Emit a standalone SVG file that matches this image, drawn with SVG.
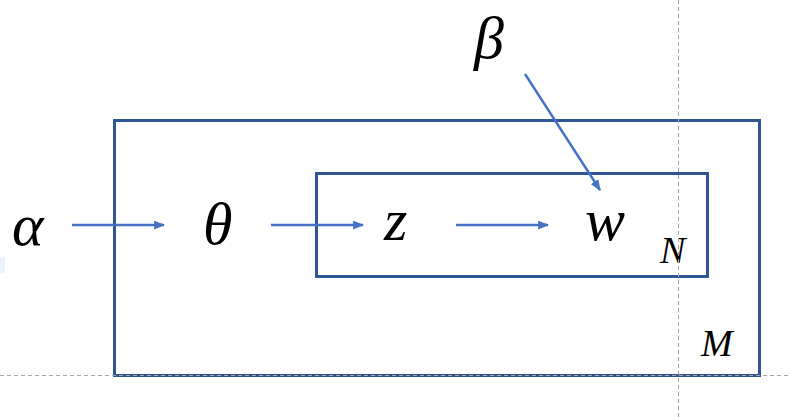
<svg xmlns="http://www.w3.org/2000/svg" width="790" height="417" viewBox="0 0 790 417">
<style>
.plate{fill:none;stroke:#2F5597;stroke-width:3}
.guide{stroke:#A6A6A6;stroke-width:1;stroke-dasharray:4 3}
.edge{stroke:#4472C4;stroke-width:2.4;fill:none}
.sym{font-family:"Liberation Serif","DejaVu Serif",serif;font-style:italic;fill:#000}
.big{font-size:60px}
.small{font-size:38px}
</style>
<defs>
<marker id="ah" viewBox="0 0 10 8" refX="9" refY="4" markerWidth="11" markerHeight="9" markerUnits="userSpaceOnUse" orient="auto">
<path d="M0,0 L10,4 L0,8 z" fill="#4472C4"/>
</marker>
</defs>
<rect x="0" y="257" width="5" height="16" fill="#EEF3FA"/>
<g id="plate-M"><rect class="plate" x="114.5" y="120.5" width="645" height="255"/><text class="sym small" x="701" y="356">M</text></g>
<g id="plate-N"><rect class="plate" x="316.5" y="173.5" width="391" height="103"/><text class="sym small" x="660" y="263">N</text></g>
<g id="guides">
<line class="guide" x1="678.5" y1="0" x2="678.5" y2="417"/>
<line class="guide" x1="0" y1="375.5" x2="790" y2="375.5"/>
</g>
<g id="node-alpha"><text class="sym big" x="12" y="245">α</text></g>
<g id="node-theta"><text class="sym big" x="203" y="244">θ</text></g>
<g id="node-z"><text class="sym big" x="384" y="240">z</text></g>
<g id="node-w"><text class="sym big" x="585" y="240">w</text></g>
<g id="node-beta"><text class="sym big" x="474" y="58">β</text></g>
<g id="connectors">
<line class="edge" x1="72" y1="225" x2="164" y2="225" marker-end="url(#ah)"/>
<line class="edge" x1="271" y1="225" x2="363" y2="225" marker-end="url(#ah)"/>
<line class="edge" x1="456" y1="225" x2="548" y2="225" marker-end="url(#ah)"/>
<line class="edge" x1="525" y1="74" x2="600" y2="190" marker-end="url(#ah)"/>
</g>
</svg>
